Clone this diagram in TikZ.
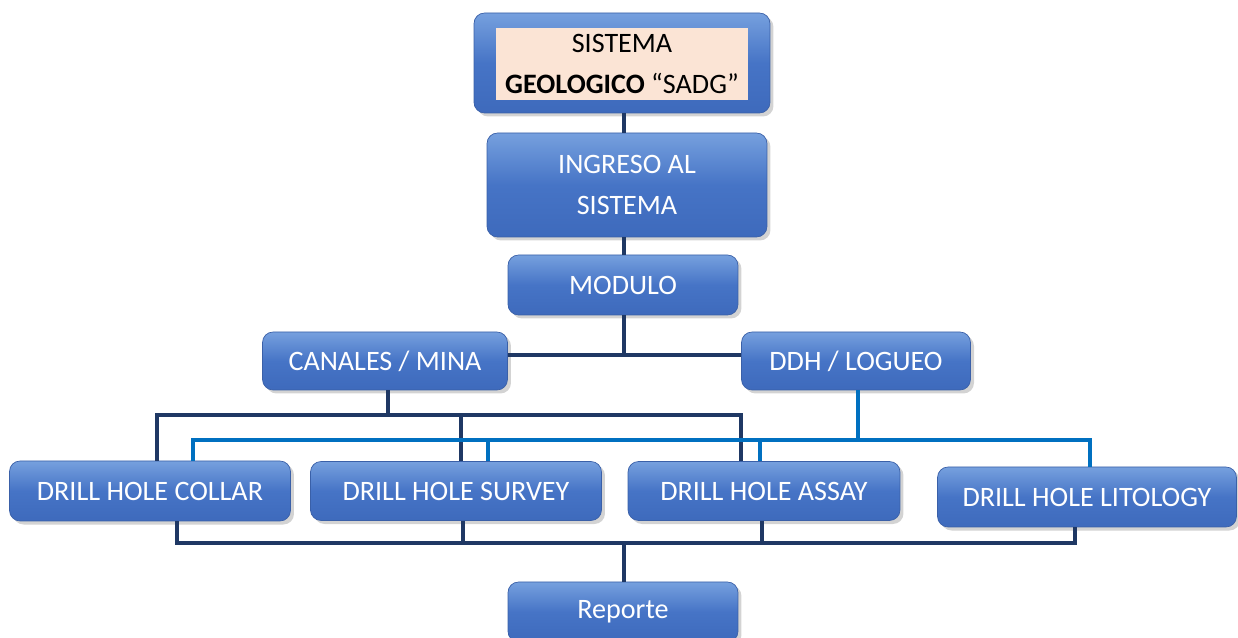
\documentclass[tikz,border=0pt]{standalone}
\usepackage{fontspec}
\setmainfont{Carlito}
\usepackage{tikz}
\usetikzlibrary{calc,shadows}
\definecolor{boxtop}{RGB}{118,160,222}
\definecolor{boxmid}{RGB}{70,116,198}
\definecolor{boxbot}{RGB}{62,106,188}
\definecolor{boxedge}{RGB}{58,96,168}
\definecolor{navyline}{RGB}{31,56,100}
\definecolor{skyline}{RGB}{0,112,192}
\definecolor{peach}{RGB}{251,228,213}

\begin{document}
\begin{tikzpicture}[x=0.02cm,y=0.02cm,
    blockbox/.style={draw=boxedge,rounded corners=6pt,align=center,text=white,
        top color=boxtop,bottom color=boxbot,middle color=boxmid,
        font=\fontsize{16}{23}\selectfont,
        drop shadow={opacity=0.35,shadow xshift=2pt,shadow yshift=-2pt}},
    titlebox/.style={fill=peach,draw=none,align=center,text=black,
        font=\fontsize{16}{23}\selectfont},
    darkbus/.style={navyline,line width=2.4pt},
    lightbus/.style={skyline,line width=2.4pt}
]
\useasboundingbox (0,0) rectangle (1238,638);
% upper chain
\node[blockbox,minimum width=5.92cm,minimum height=2.0cm] (sis) at (622,575) {};
\node[titlebox,minimum width=5.06cm,minimum height=1.44cm] (sistxt) at (622,574) {SISTEMA\\\textbf{GEOLOGICO} “SADG”};
\node[blockbox,minimum width=5.6cm,minimum height=2.08cm] (ing) at (627,453) {INGRESO AL\\SISTEMA};
\node[blockbox,minimum width=4.6cm,minimum height=1.2cm] (mod) at (623,353) {MODULO};
\node[blockbox,minimum width=4.9cm,minimum height=1.16cm] (can) at (385,277) {CANALES / MINA};
\node[blockbox,minimum width=4.58cm,minimum height=1.16cm] (ddh) at (856,277) {DDH / LOGUEO};
% tables
\node[blockbox,minimum width=5.62cm,minimum height=1.2cm] (col) at (150,147) {DRILL HOLE COLLAR};
\node[blockbox,minimum width=5.82cm,minimum height=1.18cm] (sur) at (456,147) {DRILL HOLE SURVEY};
\node[blockbox,minimum width=5.44cm,minimum height=1.18cm] (ass) at (764,147) {DRILL HOLE ASSAY};
\node[blockbox,minimum width=5.98cm,minimum height=1.2cm] (lit) at (1087,141) {DRILL HOLE LITOLOGY};
\node[blockbox,minimum width=4.6cm,minimum height=1.2cm] (rep) at (623,26) {Reporte};
% connectors
\draw[darkbus] (sis.south -| 624,0) -- (ing.north -| 624,0);
\draw[darkbus] (ing.south -| 624,0) -- (mod.north -| 624,0);
\draw[darkbus] (mod.south -| 624,0) -- (624,283);
\draw[darkbus] ($(can.east)+(0,6)$) -- ($(ddh.west)+(0,6)$);
% canales bus
\draw[darkbus] (can.south -| 388,0) -- (388,223);
\draw[darkbus] ($(col.north)+(7,0)$) |- (741,223) -- (ass.north -| 741,0);
\draw[darkbus] (sur.north -| 461,0) -- (461,223);
% logueo bus
\draw[lightbus] (ddh.south -| 858,0) -- (858,198);
\draw[lightbus] ($(col.north)+(43,0)$) |- (1090,198) -- (lit.north -| 1090,0);
\draw[lightbus] (sur.north -| 488,0) -- (488,198);
\draw[lightbus] (ass.north -| 760,0) -- (760,198);
% report bus
\draw[darkbus] ($(col.south)+(27,0)$) |- (1075,95) -- (lit.south -| 1075,0);
\draw[darkbus] (sur.south -| 463,0) -- (463,95);
\draw[darkbus] (ass.south -| 762,0) -- (762,95);
\draw[darkbus] (624,95) -- (rep.north -| 624,0);
\end{tikzpicture}
\end{document}
